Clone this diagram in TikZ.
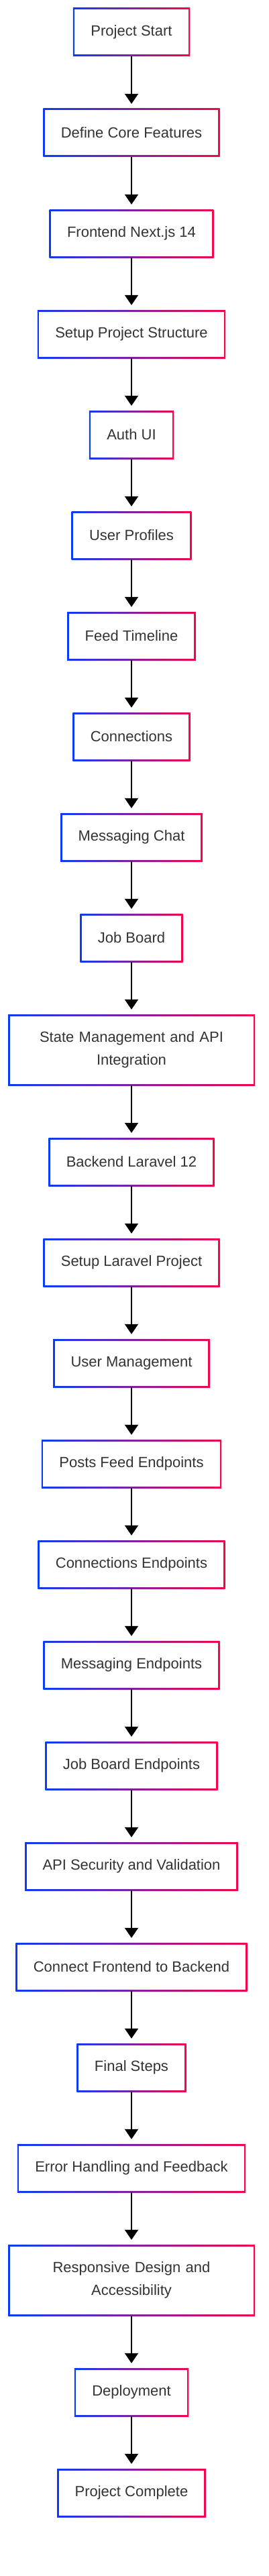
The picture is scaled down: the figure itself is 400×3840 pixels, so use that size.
\documentclass[tikz,border=0pt]{standalone}
\usepackage{fontspec}
\setmainfont{Liberation Sans}
\usetikzlibrary{arrows.meta,shadows}
\definecolor{gblue}{RGB}{10,60,245}
\definecolor{gred}{RGB}{245,5,75}
\definecolor{txt}{RGB}{51,51,51}
\tikzset{
  box/.style={rectangle, left color=gblue, right color=gred, inner xsep=26.5pt, inner ysep=0pt,
    minimum height=72pt, text=txt, font=\fontsize{22pt}{34pt}\selectfont, align=center,
    path picture={\fill[white] ([shift={(2.5pt,2.5pt)}]path picture bounding box.south west) rectangle ([shift={(-2.5pt,-2.5pt)}]path picture bounding box.north east);},
    drop shadow={opacity=0.10, shadow xshift=1.5pt, shadow yshift=-1.5pt}},
  wbox/.style={box, text width=315pt, minimum height=106pt},
  flow/.style={line width=2pt, -{Triangle[width=20pt,length=15pt]}, shorten >=7pt}
}
\begin{document}
\begin{tikzpicture}[x=1pt,y=1pt]
\useasboundingbox[fill=white] (0,0) rectangle (400,-3840);
\node[box] (n1) at (196,-48) {Project Start};
\node[box] (n2) at (196,-198) {Define Core Features};
\node[box] (n3) at (196,-348) {Frontend Next.js 14};
\node[box] (n4) at (196,-498) {Setup Project Structure};
\node[box] (n5) at (196,-648) {Auth UI};
\node[box] (n6) at (196,-798) {User Profiles};
\node[box] (n7) at (196,-948) {Feed Timeline};
\node[box] (n8) at (196,-1098) {Connections};
\node[box] (n9) at (196,-1248) {Messaging Chat};
\node[box] (n10) at (196,-1398) {Job Board};
\node[wbox] (n11) at (196,-1565) {State Management and API\\Integration};
\node[box] (n12) at (196,-1732) {Backend Laravel 12};
\node[box] (n13) at (196,-1882) {Setup Laravel Project};
\node[box] (n14) at (196,-2032) {User Management};
\node[box] (n15) at (196,-2182) {Posts Feed Endpoints};
\node[box] (n16) at (196,-2332) {Connections Endpoints};
\node[box] (n17) at (196,-2482) {Messaging Endpoints};
\node[box] (n18) at (196,-2632) {Job Board Endpoints};
\node[box] (n19) at (196,-2782) {API Security and Validation};
\node[box] (n20) at (196,-2932) {Connect Frontend to Backend};
\node[box] (n21) at (196,-3082) {Final Steps};
\node[box] (n22) at (196,-3232) {Error Handling and Feedback};
\node[wbox] (n23) at (196,-3399) {Responsive Design and\\Accessibility};
\node[box] (n24) at (196,-3566) {Deployment};
\node[box] (n25) at (196,-3716) {Project Complete};
\foreach \a/\b in {n1/n2,n2/n3,n3/n4,n4/n5,n5/n6,n6/n7,n7/n8,n8/n9,n9/n10,n10/n11,n11/n12,n12/n13,n13/n14,n14/n15,n15/n16,n16/n17,n17/n18,n18/n19,n19/n20,n20/n21,n21/n22,n22/n23,n23/n24,n24/n25}
  \draw[flow] (\a.south) -- (\b.north);
\end{tikzpicture}
\end{document}
